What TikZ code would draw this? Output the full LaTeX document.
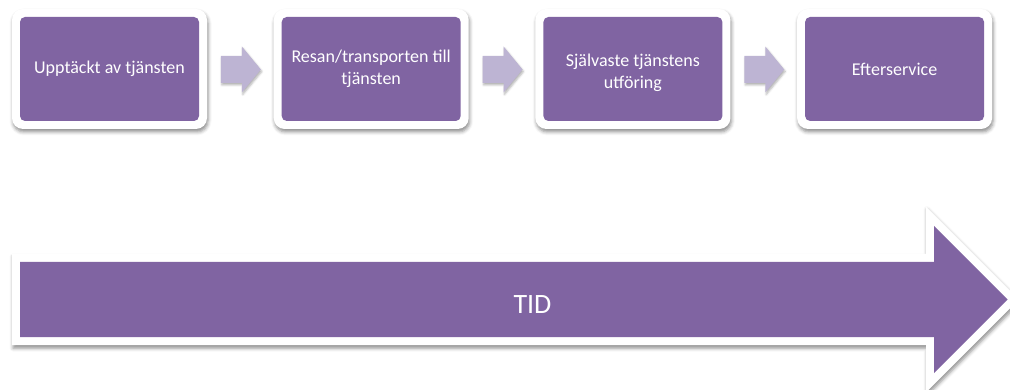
\documentclass[tikz,border=0pt]{standalone}
\usepackage{fontspec}
\setmainfont{Carlito}
\usetikzlibrary{shadows.blur,calc}
\definecolor{stagepurple}{HTML}{8064A2}
\definecolor{steplilac}{HTML}{BDB4D3}
\begin{document}
\begin{tikzpicture}[x=1pt,y=-1pt,
  softshadow/.style={blur shadow={shadow xshift=1pt, shadow yshift=-3pt,
      shadow blur radius=3.5pt, shadow opacity=45}},
  stageframe/.style={fill=white, rounded corners=11pt, minimum width=195pt,
      minimum height=120pt, inner sep=0pt, softshadow},
  stage/.style={fill=stagepurple, rounded corners=5pt, minimum width=179pt,
      minimum height=104pt, inner sep=0pt},
  stagetext/.style={text=white, align=center, inner sep=0pt,
      font=\fontsize{18}{22.5}\selectfont},
  flow/.style={fill=steplilac, blur shadow={shadow xshift=1pt, shadow yshift=-2pt,
      shadow blur radius=2pt, shadow opacity=30}},
]
\useasboundingbox (0,0) rectangle (1010,390);

% stage boxes: white frame with a purple card on top
\foreach \i/\x in {1/109.5, 2/371.2, 3/632.9, 4/894.6}{
  \node[stageframe] (f\i) at (\x,69) {};
  \node[stage] (s\i) at (f\i) {};
}
\node[stagetext] (t1) at (s1) {Upptäckt av tjänsten};
\node[stagetext] (t2) at (s2) {Resan/transporten till\\tjänsten};
\node[stagetext] (t3) at ($(s3)+(0,4)$) {Självaste tjänstens\\utföring};
\node[stagetext] (t4) at (s4) {Efterservice};

% block arrows between the stages
\foreach \a/\b in {1/2, 2/3, 3/4}{
  \coordinate (c\a) at ($(f\a.east)!0.5!(f\b.west)+(0,0.5)$);
  \fill[flow, shift={(c\a)}] (-19.5,-13.5) -- (1.5,-13.5) -- (1.5,-23) -- (20.5,0)
      -- (1.5,23) -- (1.5,13.5) -- (-19.5,13.5) -- cycle;
}

% time arrow
\fill[white, softshadow] (12,254) -- (926,254) -- (926,206.7) -- (1018.8,299.5)
    -- (926,392.3) -- (926,345) -- (12,345) -- cycle;
\fill[stagepurple] (20,262) -- (934,262) -- (934,226) -- (1007.5,299.5)
    -- (934,373) -- (934,337) -- (20,337) -- cycle;
\node[font=\fontsize{28}{34}\selectfont, text=white, anchor=base, inner sep=0pt]
    (tid) at (532.5,313) {TID};
\end{tikzpicture}
\end{document}
